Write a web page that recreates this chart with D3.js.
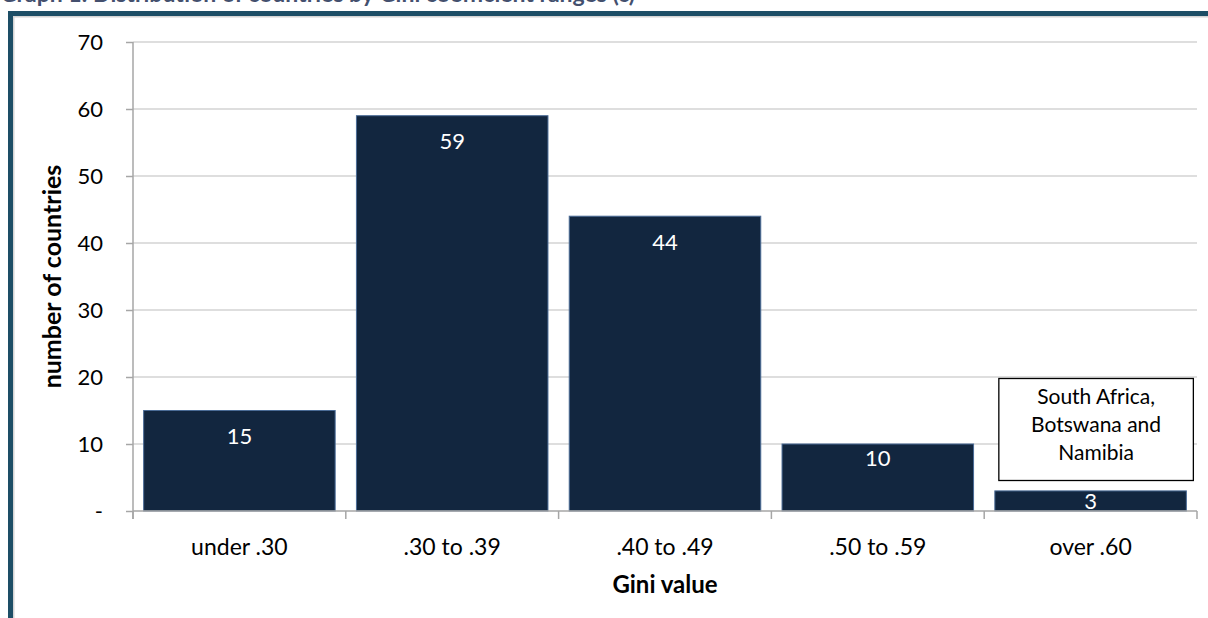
<!DOCTYPE html>
<html>
<head>
<meta charset="utf-8">
<script src="https://cdn.jsdelivr.net/npm/d3@7"></script>
<style>
  html, body { margin: 0; padding: 0; background: #fff; overflow: hidden; }
  svg { display: block; font-family: Lato, "Open Sans", sans-serif; }
</style>
</head>
<body>
<svg id="chart" width="1208" height="618"></svg>
<script>
var categories = ["under .30", ".30 to .39", ".40 to .49", ".50 to .59", "over .60"];
var countries = [15, 59, 44, 10, 3];
var yTicks = [0, 10, 20, 30, 40, 50, 60, 70];
var noteLines = ["South Africa,", "Botswana and", "Namibia"];

var svg = d3.select("#chart"),
    WIDTH = 1208,
    HEIGHT = 618,
    MARGINS = { top: 42, right: 11, bottom: 107, left: 133 };

// title, mostly cut off by the top edge like the source
svg.append("text")
  .attr("x", 0).attr("y", 2)
  .attr("font-size", 23).attr("font-weight", "bold")
  .attr("fill", "#44506e")
  .text("Graph 1: Distribution of countries by Gini coefficient ranges (c)");

// frame
svg.append("rect")
  .attr("x", 13.5).attr("y", 16.5).attr("width", 1300).attr("height", 700)
  .attr("fill", "none").attr("stroke", "#d4d4d4").attr("stroke-width", 2);
svg.append("rect")
  .attr("x", 10.5).attr("y", 13.5).attr("width", 1300).attr("height", 700)
  .attr("fill", "none").attr("stroke", "#1d4e66").attr("stroke-width", 5);

var x = d3.scaleBand()
  .domain(categories)
  .range([MARGINS.left, WIDTH - MARGINS.right])
  .paddingInner(0.1).paddingOuter(0.05);

var y = d3.scaleLinear()
  .domain([0, 70])
  .range([HEIGHT - MARGINS.bottom, MARGINS.top]);

// gridlines
svg.append("g").selectAll("line")
  .data(yTicks.slice(1))
  .join("line")
  .attr("x1", MARGINS.left).attr("x2", WIDTH - MARGINS.right)
  .attr("y1", function(d) { return y(d); }).attr("y2", function(d) { return y(d); })
  .attr("stroke", "#d3d3d3").attr("stroke-width", 1.5);

// y axis
var yAxis = d3.axisLeft(y)
  .tickValues(yTicks)
  .tickSize(7)
  .tickPadding(23)
  .tickFormat(function(d) { return d === 0 ? "-" : d; });
var gy = svg.append("g")
  .attr("transform", "translate(" + MARGINS.left + ",0)")
  .call(yAxis);
gy.select(".domain").attr("stroke", "#a6a6a6").attr("stroke-width", 1.5)
  .attr("d", "M0," + (y(0) + 8) + "V" + y(70));
gy.selectAll(".tick line").attr("stroke", "#a6a6a6").attr("stroke-width", 1.5);
gy.selectAll(".tick text").attr("font-size", 22).attr("fill", "#000")
  .attr("font-family", "Lato, sans-serif");

// bars
svg.append("g").selectAll("rect")
  .data(countries)
  .join("rect")
  .attr("x", function(d, i) { return x(categories[i]); })
  .attr("y", function(d) { return y(d); })
  .attr("width", x.bandwidth())
  .attr("height", function(d) { return y(0) - y(d); })
  .attr("fill", "#12263f")
  .attr("stroke", "#4a6b96").attr("stroke-width", 1);

// x axis
var gx = svg.append("g")
  .attr("transform", "translate(0," + y(0) + ")");
gx.append("line")
  .attr("x1", MARGINS.left).attr("x2", WIDTH - MARGINS.right)
  .attr("stroke", "#a6a6a6").attr("stroke-width", 1.5);
var bounds = categories.map(function(c) { return x(c) - x.step() * x.paddingInner() / 2; });
bounds[0] = MARGINS.left;
bounds.push(WIDTH - MARGINS.right);
gx.selectAll("line.tick")
  .data(bounds)
  .join("line").attr("class", "tick")
  .attr("x1", function(d) { return d; }).attr("x2", function(d) { return d; })
  .attr("y1", 0).attr("y2", 8)
  .attr("stroke", "#a6a6a6").attr("stroke-width", 1.5);
gx.selectAll("text")
  .data(categories)
  .join("text")
  .attr("x", function(d) { return x(d) + x.bandwidth() / 2; })
  .attr("y", 44)
  .attr("text-anchor", "middle")
  .attr("font-size", 23)
  .text(function(d) { return d; });

// value labels
svg.append("g").selectAll("text")
  .data(countries)
  .join("text")
  .attr("x", function(d, i) { return x(categories[i]) + x.bandwidth() / 2; })
  .attr("y", function(d) {
    var h = y(0) - y(d);
    var off = h < 40 ? h / 2 : Math.min(26, h / 2 - 19);
    return y(d) + off;
  })
  .attr("dy", "0.35em")
  .attr("text-anchor", "middle")
  .attr("font-size", 22)
  .attr("fill", "#fff")
  .text(function(d) { return d; });

// axis titles
svg.append("text")
  .attr("x", x(categories[2]) + x.bandwidth() / 2)
  .attr("y", 593)
  .attr("text-anchor", "middle")
  .attr("font-size", 24).attr("font-weight", "bold")
  .text("Gini value");
svg.append("text")
  .attr("transform", "translate(61," + y(35) + ") rotate(-90)")
  .attr("text-anchor", "middle")
  .attr("font-size", 25).attr("font-weight", "bold")
  .text("number of countries");

// note box over the last bar
var last = categories[categories.length - 1];
var note = svg.append("g");
var nx = x(last) + 4, nw = x.bandwidth() + 3;
note.append("rect")
  .attr("x", nx).attr("y", 378.5)
  .attr("width", nw).attr("height", 102)
  .attr("fill", "#fff").attr("stroke", "#000").attr("stroke-width", 1.3);
note.selectAll("text")
  .data(noteLines)
  .join("text")
  .attr("x", nx + nw / 2)
  .attr("y", function(d, i) { return 404 + i * 28; })
  .attr("text-anchor", "middle")
  .attr("font-size", 21)
  .text(function(d) { return d; });
</script>
</body>
</html>
